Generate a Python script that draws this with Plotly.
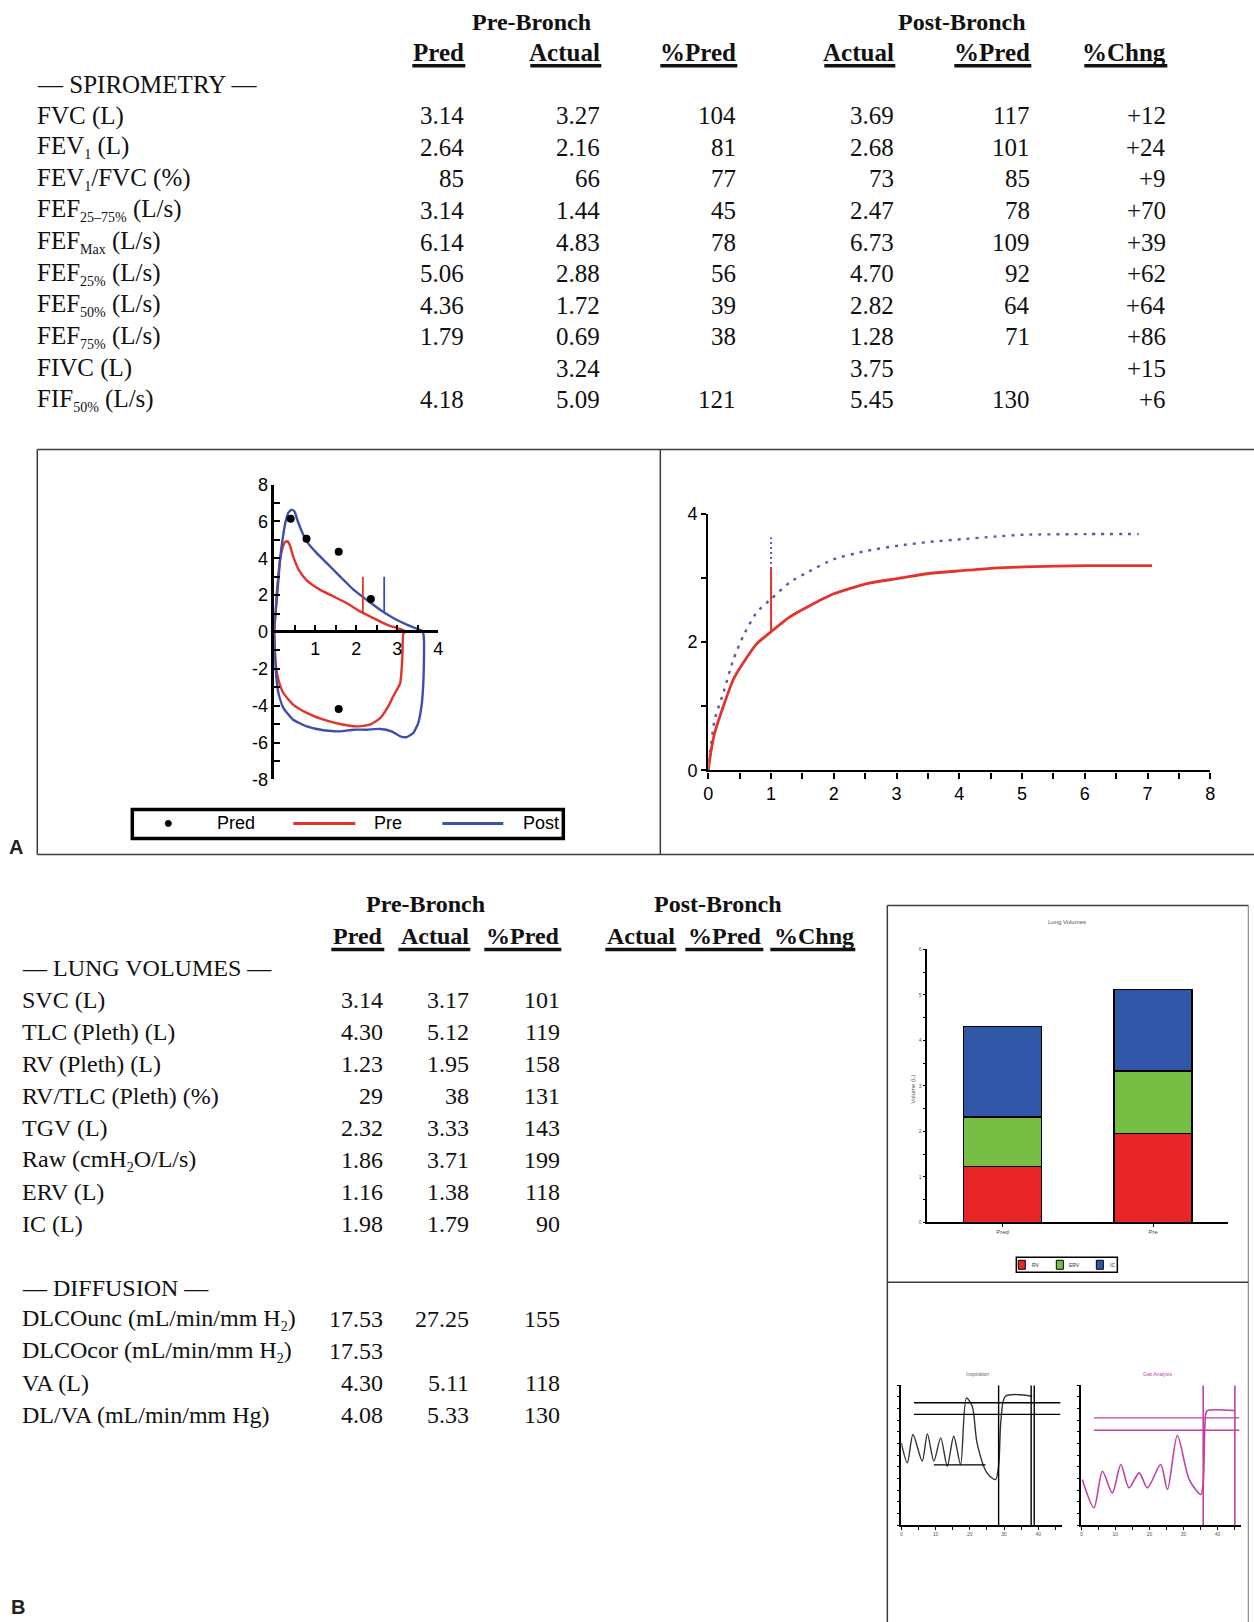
import plotly.graph_objects as go

W, H = 1254, 1622

# ---------------- panel A: spirometry table ----------------
spiro_labels = ["FVC (L)", "FEV<sub>1</sub> (L)", "FEV<sub>1</sub>/FVC (%)", "FEF<sub>25–75%</sub> (L/s)",
                "FEF<sub>Max</sub> (L/s)", "FEF<sub>25%</sub> (L/s)", "FEF<sub>50%</sub> (L/s)",
                "FEF<sub>75%</sub> (L/s)", "FIVC (L)", "FIF<sub>50%</sub> (L/s)"]
spiro_pre_pred = ["3.14", "2.64", "85", "3.14", "6.14", "5.06", "4.36", "1.79", "", "4.18"]
spiro_pre_actual = ["3.27", "2.16", "66", "1.44", "4.83", "2.88", "1.72", "0.69", "3.24", "5.09"]
spiro_pre_pct = ["104", "81", "77", "45", "78", "56", "39", "38", "", "121"]
spiro_post_actual = ["3.69", "2.68", "73", "2.47", "6.73", "4.70", "2.82", "1.28", "3.75", "5.45"]
spiro_post_pct = ["117", "101", "85", "78", "109", "92", "64", "71", "", "130"]
spiro_chng = ["+12", "+24", "+9", "+70", "+39", "+62", "+64", "+86", "+15", "+6"]
col_headers = ["Pred", "Actual", "%Pred", "Actual", "%Pred", "%Chng"]

# ---------------- panel A: flow-volume loop ----------------
pre_fv_vol = [0, 0.03, 0.06, 0.10, 0.14, 0.20, 0.26, 0.33, 0.38, 0.46, 0.59, 0.79, 1.11, 1.44, 1.76,
              2.09, 2.41, 2.74, 2.98, 3.15, 3.19,
              3.15, 3.12, 3.07, 2.90, 2.78, 2.58, 2.33, 2.00, 1.60, 1.20, 0.79, 0.46, 0.22, 0.10, 0.04, 0.01, 0]
pre_fv_flow = [0, 1.0, 2.1, 3.1, 3.9, 4.55, 4.88, 4.92, 4.7, 4.1, 3.4, 2.8, 2.3, 1.93, 1.57,
               1.12, 0.76, 0.40, 0.22, 0.09, 0,
               -0.05, -1.5, -2.77, -3.49, -4.03, -4.67, -5.03, -5.12, -4.99, -4.76, -4.39, -3.94, -3.31, -2.59, -1.86, -0.78, 0]
post_fv_vol = [0, 0.02, 0.06, 0.10, 0.14, 0.20, 0.26, 0.34, 0.42, 0.49, 0.56, 0.67, 0.79, 1.03, 1.28, 1.60,
               1.93, 2.25, 2.58, 2.90, 3.23, 3.47, 3.62,
               3.65, 3.65, 3.63, 3.59, 3.51, 3.39, 3.23, 3.07, 2.86, 2.58, 2.25, 1.93, 1.60, 1.20, 0.79, 0.46,
               0.22, 0.10, 0.04, 0.01, 0]
post_fv_flow = [0, 0.85, 1.75, 2.84, 3.92, 5.0, 5.82, 6.46, 6.64, 6.55, 6.09, 5.46, 4.92, 4.29, 3.74, 3.02,
                2.30, 1.75, 1.21, 0.76, 0.40, 0.18, 0.04,
                -0.42, -1.5, -2.95, -4.03, -4.94, -5.48, -5.70, -5.66, -5.39, -5.26, -5.30, -5.30, -5.39, -5.33,
                -5.12, -4.76, -4.12, -3.31, -2.22, -0.96, 0]
pred_fv_vol = [0.40, 0.785, 1.57, 2.355, 1.57]
pred_fv_flow = [6.14, 5.06, 4.36, 1.79, -4.18]
fev1_pre_vol, fev1_pre_flow = [2.16, 2.16], [1.0, 3.0]
fev1_post_vol, fev1_post_flow = [2.68, 2.68], [1.1, 3.0]
fv_x_ticks = [0, 0.5, 1, 1.5, 2, 2.5, 3, 3.5, 4]
fv_x_text = ["", "", "1", "", "2", "", "3", "", "4"]
fv_y_ticks = list(range(-8, 9))
fv_y_text = ["-8", "", "-6", "", "-4", "", "-2", "", "0", "", "2", "", "4", "", "6", "", "8"]

# ---------------- panel A: volume-time ----------------
pre_vt_time = [0, 0.03, 0.1, 0.24, 0.4, 0.56, 0.77, 1.0, 1.3, 1.57, 2.0, 2.53, 3.03, 3.54, 4.04, 4.55, 5.03, 6.04, 7.07]
pre_vt_vol = [0, 0.22, 0.58, 1.0, 1.42, 1.68, 1.97, 2.16, 2.39, 2.54, 2.75, 2.91, 2.99, 3.07, 3.11, 3.15, 3.17, 3.19, 3.19]
post_vt_time = [0, 0.03, 0.1, 0.24, 0.4, 0.56, 0.77, 1.0, 1.3, 1.57, 2.0, 2.53, 3.03, 3.54, 4.04, 4.55, 5.03, 6.04, 6.86]
post_vt_vol = [0, 0.3, 0.79, 1.21, 1.73, 2.1, 2.46, 2.67, 2.93, 3.08, 3.29, 3.42, 3.5, 3.56, 3.6, 3.64, 3.67, 3.68, 3.68]
pre_vt_mark_time, pre_vt_mark_vol = [1, 1], [2.16, 3.15]
post_vt_mark_time, post_vt_mark_vol = [1, 1], [2.67, 3.63]
vt_x_ticks = [i / 2 for i in range(17)]
vt_x_text = ["0", "", "1", "", "2", "", "3", "", "4", "", "5", "", "6", "", "7", "", "8"]
vt_y_ticks = [0, 1, 2, 3, 4]
vt_y_text = ["0", "", "2", "", "4"]

# ---------------- panel B: lung volume / diffusion table ----------------
lv_labels = ["SVC (L)", "TLC (Pleth) (L)", "RV (Pleth) (L)", "RV/TLC (Pleth) (%)", "TGV (L)",
             "Raw (cmH<sub>2</sub>O/L/s)", "ERV (L)", "IC (L)"]
lv_pred = ["3.14", "4.30", "1.23", "29", "2.32", "1.86", "1.16", "1.98"]
lv_actual = ["3.17", "5.12", "1.95", "38", "3.33", "3.71", "1.38", "1.79"]
lv_pct = ["101", "119", "158", "131", "143", "199", "118", "90"]
dl_labels = ["DLCOunc (mL/min/mm H<sub>2</sub>)", "DLCOcor (mL/min/mm H<sub>2</sub>)", "VA (L)",
             "DL/VA (mL/min/mm Hg)"]
dl_pred = ["17.53", "17.53", "4.30", "4.08"]
dl_actual = ["27.25", "", "5.11", "5.33"]
dl_pct = ["155", "", "118", "130"]

# ---------------- panel B: lung volume bars ----------------
bar_cats = ["Pred", "Pre"]
bar_rv = [1.23, 1.95]
bar_erv = [1.09, 1.38]
bar_ic = [1.98, 1.79]
bar_y_ticks = [i / 2 for i in range(13)]
bar_y_text = ["0", "", "1", "", "2", "", "3", "", "4", "", "5", "", "6"]

# ---------------- panel B: single-breath traces ----------------
insp_x = [0, 1.75, 3.4, 6.1, 7.6, 9.5, 11.5, 13.4, 15.3, 17.3, 19.0, 20.7, 22.1, 25.0, 27.5, 28.4, 29.1, 30.4, 38.2]
insp_y = [7.06, 5.34, 7.77, 5.49, 7.83, 5.49, 7.49, 5.06, 7.63, 5.2, 10.9, 10.2, 7.06, 4.49, 3.91, 5.06, 9.06, 11.06, 11.06]
insp_hlevels = [10.5, 9.5]
insp_hspan = [3.7, 46.4]
insp_short_y, insp_short_span = 5.17, [9.5, 24.6]
insp_vlines = [28.4, 37.9, 38.8]
gas_x = [0.3, 3.7, 6.2, 9.1, 11.6, 14.0, 17.0, 19.4, 23.3, 25.3, 28.2, 31.7, 35.1, 35.8, 36.6, 37.1, 44.9]
gas_y = [3.91, 1.49, 4.63, 2.77, 5.2, 3.2, 4.49, 3.2, 5.2, 3.06, 7.69, 3.91, 2.63, 3.63, 9.63, 9.83, 9.83]
gas_hlevels = [9.2, 8.14]
gas_hspan = [3.7, 46.4]
gas_vlines = [35.8, 45.1]
sb_x_ticks = [0, 5, 10, 15, 20, 25, 30, 35, 40, 45]
sb_x_text = ["0", "", "10", "", "20", "", "30", "", "40", ""]

RED = "#e3342b"
BLUE = "#3d4fae"
INK = "#111111"
FRAME = "#3c3c3c"
SERIF = "Liberation Serif"
SANS = "Liberation Sans"
MAGENTA = "#c23fa3"

# the captured page comes out slightly shrunk and offset; these undo it
SX, OX = 0.992, 4.7
SY, OY = 0.988, 10.3


def fx(p):
    return ((p - OX) / SX) / W


def fy(p):
    return 1 - ((p - OY) / SY) / H


ann = []
shapes = []


def text(x, y, s, size=25, anchor="left", bold=False, color=INK, family=SERIF, angle=0):
    s = s.replace("<sub>", "<sub><span style='font-size:14px'>").replace("</sub>", "</span></sub>")
    if bold:
        s = "<b>" + s + "</b>"
    ann.append(dict(x=fx(x), y=fy(y), xref="paper", yref="paper", text=s, showarrow=False,
                    xanchor=anchor, yanchor="middle", textangle=angle,
                    font=dict(family=family, size=size, color=color)))


def line(x0, y0, x1, y1, w=1.5, color=FRAME):
    shapes.append(dict(type="line", xref="paper", yref="paper", x0=fx(x0), y0=fy(y0), x1=fx(x1), y1=fy(y1),
                       line=dict(color=color, width=w)))


def rect(x0, y0, x1, y1, w=1.5, color="black", fill="rgba(0,0,0,0)"):
    shapes.append(dict(type="rect", xref="paper", yref="paper", x0=fx(x0), y0=fy(y0), x1=fx(x1), y1=fy(y1),
                       line=dict(color=color, width=w), fillcolor=fill))


# ---- top table text ----
text(531, 22, "Pre-Bronch", 24, "center", bold=True)
text(962, 22, "Post-Bronch", 24, "center", bold=True)
top_right = [466, 602, 738, 896, 1032, 1168]
top_left = [412, 530, 660, 824, 954, 1084]
for h, xr, xl in zip(col_headers, top_right, top_left):
    text(xr, 53, h, 25, "right", bold=True)
    line(xl, 66, xr - 1, 66, 3.5, INK)
text(35, 85, "— SPIROMETRY —", 25)
spiro_cols = [spiro_pre_pred, spiro_pre_actual, spiro_pre_pct, spiro_post_actual, spiro_post_pct, spiro_chng]
for i, lab in enumerate(spiro_labels):
    yy = 116 + 31.6 * i
    text(35, yy, lab, 25)
    for col, xr in zip(spiro_cols, top_right):
        if col[i]:
            text(xr, yy, col[i], 25, "right")

# ---- panel B table text ----
text(425, 905, "Pre-Bronch", 24, "center", bold=True)
text(718, 905, "Post-Bronch", 24, "center", bold=True)
b_right = [385, 471, 562, 677, 764, 856]
b_left = [331, 398, 484, 605, 685, 770]
for h, xr, xl in zip(col_headers, b_right, b_left):
    text(xr, 937, h, 24, "right", bold=True)
    line(xl, 950, xr - 1, 950, 3.5, INK)
text(20, 969, "— LUNG VOLUMES —", 24)
for i, lab in enumerate(lv_labels):
    yy = 1001 + 32 * i
    text(20, yy, lab, 24)
    for col, xr in zip([lv_pred, lv_actual, lv_pct], b_right[:3]):
        if col[i]:
            text(xr, yy, col[i], 24, "right")
text(20, 1289, "— DIFFUSION —", 24)
for i, lab in enumerate(dl_labels):
    yy = 1320 + 32 * i
    text(20, yy, lab, 24)
    for col, xr in zip([dl_pred, dl_actual, dl_pct], b_right[:3]):
        if col[i]:
            text(xr, yy, col[i], 24, "right")

# ---- panel frames ----
line(37, 450, W + 12, 450)
line(37, 855, W + 12, 855)
line(37, 450, 37, 855)
line(660, 450, 660, 855)
line(887, 906, 1248, 906)
line(887, 906, 887, H + 12)
line(1248, 906, 1248, H + 12, 1.2, "#888")
line(887, 1283, 1248, 1283)
text(16, 848, "A", 20, "center", bold=True, family=SANS, color="#222")
text(18, 1608, "B", 20, "center", bold=True, family=SANS, color="#222")

# ---- flow-volume legend ----
rect(132, 810, 563, 839, 3.5)
shapes.append(dict(type="circle", xref="paper", yref="paper", x0=fx(165), x1=fx(171), y0=fy(821), y1=fy(827),
                   fillcolor="black", line=dict(color="black", width=1)))
text(236, 824, "Pred", 18, "center", family=SANS, color="black")
line(293, 824, 355, 824, 3, RED)
text(388, 824, "Pre", 18, "center", family=SANS, color="black")
line(442, 824, 503, 824, 3, BLUE)
text(541, 824, "Post", 18, "center", family=SANS, color="black")

# ---- bar chart legend / titles ----
text(1067, 923, "Lung Volumes", 6, "center", family=SANS, color="#555")
text(913, 1090, "Volume (L)", 6, "center", family=SANS, color="#555", angle=-90)
rect(1016, 1258, 1117, 1273, 1.5)
for (x0, c, lab, tx) in [(1018, "#e8262a", "RV", 1030), (1056, "#77bf44", "ERV", 1067), (1096, "#3056a8", "IC", 1108)]:
    rect(x0, 1261, x0 + 7, 1270, 1, "black", c)
    text(tx, 1265.5, lab, 5, "left", family=SANS, color="#333")
text(977, 1375, "Inspiration", 5, "center", family=SANS, color="#666")
text(1157, 1375, "Gas Analysis", 5, "center", family=SANS, color=MAGENTA)

fig = go.Figure()

# flow-volume
fig.add_trace(go.Scatter(x=pre_fv_vol, y=pre_fv_flow, mode="lines", xaxis="x", yaxis="y",
                         line=dict(color=RED, width=2.4, shape="spline", smoothing=0.5)))
fig.add_trace(go.Scatter(x=post_fv_vol, y=post_fv_flow, mode="lines", xaxis="x", yaxis="y",
                         line=dict(color=BLUE, width=2.4, shape="spline", smoothing=0.5)))
fig.add_trace(go.Scatter(x=fev1_pre_vol, y=fev1_pre_flow, mode="lines", xaxis="x", yaxis="y",
                         line=dict(color=RED, width=1.8)))
fig.add_trace(go.Scatter(x=fev1_post_vol, y=fev1_post_flow, mode="lines", xaxis="x", yaxis="y",
                         line=dict(color=BLUE, width=1.8)))
fig.add_trace(go.Scatter(x=pred_fv_vol, y=pred_fv_flow, mode="markers", xaxis="x", yaxis="y",
                         marker=dict(color="black", size=8)))

# volume-time
fig.add_trace(go.Scatter(x=post_vt_time, y=post_vt_vol, mode="lines", xaxis="x2", yaxis="y2",
                         line=dict(color="#5a5aa8", width=2.4, dash="3px,6px", shape="spline", smoothing=0.6)))
fig.add_trace(go.Scatter(x=post_vt_mark_time, y=post_vt_mark_vol, mode="lines", xaxis="x2", yaxis="y2",
                         line=dict(color="#5a5aa8", width=2, dash="2px,3px")))
fig.add_trace(go.Scatter(x=pre_vt_time, y=pre_vt_vol, mode="lines", xaxis="x2", yaxis="y2",
                         line=dict(color=RED, width=2.8, shape="spline", smoothing=0.6)))
fig.add_trace(go.Scatter(x=pre_vt_mark_time, y=pre_vt_mark_vol, mode="lines", xaxis="x2", yaxis="y2",
                         line=dict(color=RED, width=2)))

# stacked lung volumes
for vals, col in [(bar_rv, "#e8262a"), (bar_erv, "#77bf44"), (bar_ic, "#3056a8")]:
    fig.add_trace(go.Bar(x=bar_cats, y=vals, width=0.52, xaxis="x3", yaxis="y3",
                         marker=dict(color=col, line=dict(color="black", width=1.5))))

# single-breath traces
fig.add_trace(go.Scatter(x=insp_x, y=insp_y, mode="lines", xaxis="x4", yaxis="y4",
                         line=dict(color="#333", width=1.4, shape="spline", smoothing=0.8)))
for lv in insp_hlevels:
    fig.add_trace(go.Scatter(x=insp_hspan, y=[lv, lv], mode="lines", xaxis="x4", yaxis="y4",
                             line=dict(color="black", width=1.4)))
fig.add_trace(go.Scatter(x=insp_short_span, y=[insp_short_y, insp_short_y], mode="lines", xaxis="x4", yaxis="y4",
                         line=dict(color="black", width=1.4)))
for vx in insp_vlines:
    fig.add_trace(go.Scatter(x=[vx, vx], y=[0, 12], mode="lines", xaxis="x4", yaxis="y4",
                             line=dict(color="black", width=1.4)))
fig.add_trace(go.Scatter(x=gas_x, y=gas_y, mode="lines", xaxis="x5", yaxis="y5",
                         line=dict(color=MAGENTA, width=1.6, shape="spline", smoothing=0.8)))
for lv in gas_hlevels:
    fig.add_trace(go.Scatter(x=gas_hspan, y=[lv, lv], mode="lines", xaxis="x5", yaxis="y5",
                             line=dict(color=MAGENTA, width=1.4)))
for vx in gas_vlines:
    fig.add_trace(go.Scatter(x=[vx, vx], y=[0, 12], mode="lines", xaxis="x5", yaxis="y5",
                             line=dict(color=MAGENTA, width=1.6)))

ax_common = dict(showgrid=False, zeroline=False, showline=True, linecolor="black", tickcolor="black",
                 fixedrange=True)
sans_fv = dict(family=SANS, size=18, color="black")
sans_vt = dict(family=SANS, size=18, color="black")
tiny = dict(family=SANS, size=5, color="#555")

fig.update_layout(
    width=W, height=H, autosize=False, showlegend=False, barmode="stack",
    margin=dict(l=0, r=0, t=0, b=0), paper_bgcolor="white", plot_bgcolor="rgba(0,0,0,0)",
    annotations=ann, shapes=shapes,
    xaxis=dict(ax_common, domain=[fx(274), fx(438)], range=[0, 4], anchor="free", position=fy(632),
               linewidth=2.5, ticks="inside", ticklen=6, tickwidth=2, tickvals=fv_x_ticks, ticktext=fv_x_text,
               tickfont=sans_fv),
    yaxis=dict(ax_common, domain=[fy(780), fy(485)], range=[-8, 8], anchor="x",
               linewidth=2.5, ticks="inside", ticklen=6, tickwidth=2, tickvals=fv_y_ticks, ticktext=fv_y_text,
               tickfont=sans_fv),
    xaxis2=dict(ax_common, domain=[fx(708), fx(1210)], range=[0, 8], anchor="y2",
                linewidth=2.2, ticks="outside", ticklen=6, tickwidth=2, tickvals=vt_x_ticks, ticktext=vt_x_text,
                tickfont=sans_vt),
    yaxis2=dict(ax_common, domain=[fy(771), fy(514)], range=[0, 4], anchor="x2",
                linewidth=2.2, ticks="outside", ticklen=5, tickwidth=2, tickvals=vt_y_ticks, ticktext=vt_y_text,
                tickfont=sans_vt),
    xaxis3=dict(ax_common, domain=[fx(927), fx(1228)], range=[-0.5, 1.5], anchor="y3", type="category",
                linewidth=1.5, ticks="outside", ticklen=3, tickfont=dict(family=SANS, size=6, color="#444")),
    yaxis3=dict(ax_common, domain=[fy(1223), fy(950)], range=[0, 6], anchor="x3",
                linewidth=1.5, ticks="outside", ticklen=3, tickvals=bar_y_ticks, ticktext=bar_y_text,
                tickfont=tiny),
    xaxis4=dict(ax_common, domain=[fx(901), fx(1062)], range=[0, 47], anchor="y4",
                linewidth=1.5, ticks="outside", ticklen=3, tickvals=sb_x_ticks, ticktext=sb_x_text, tickfont=tiny),
    yaxis4=dict(ax_common, domain=[fy(1526), fy(1386)], range=[0, 12], anchor="x4",
                linewidth=1.5, ticks="outside", ticklen=3, dtick=1, showticklabels=False),
    xaxis5=dict(ax_common, domain=[fx(1081), fx(1241)], range=[0, 47], anchor="y5",
                linewidth=1.5, ticks="outside", ticklen=3, tickvals=sb_x_ticks, ticktext=sb_x_text, tickfont=tiny),
    yaxis5=dict(ax_common, domain=[fy(1526), fy(1386)], range=[0, 12], anchor="x5",
                linewidth=1.5, ticks="outside", ticklen=3, dtick=1, showticklabels=False),
)

fig.write_html("out.html", config={"displayModeBar": False},
               post_script="document.body.style.margin='0px';document.body.style.overflow='hidden';")
